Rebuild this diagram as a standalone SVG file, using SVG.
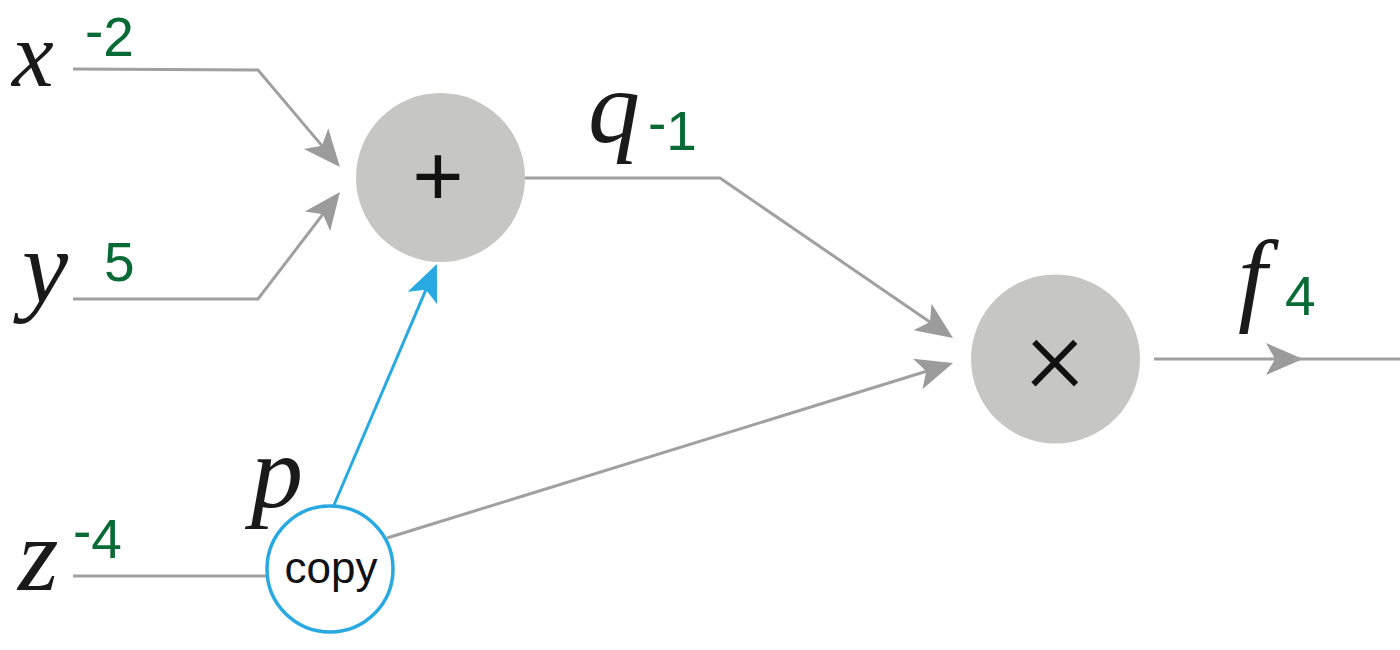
<svg xmlns="http://www.w3.org/2000/svg" width="1400" height="650" viewBox="0 0 1400 650">
<style>
.edge{fill:none;stroke:#a0a0a0;stroke-width:3}
.blue{fill:none;stroke:#29a9e1;stroke-width:3}
.op{fill:#c6c6c5}
.math{font-family:"Liberation Serif","Times New Roman",serif;font-style:italic;font-size:104px;fill:#1a1a1a}
.val{font-family:"Liberation Sans",Arial,sans-serif;font-size:55px;fill:#086a35}
.sym{font-family:"Liberation Sans",Arial,sans-serif;fill:#111;text-anchor:middle}
</style>
<defs>
<marker id="ag" markerUnits="userSpaceOnUse" markerWidth="60" markerHeight="60" viewBox="-40 -20 60 40" refX="0" refY="0" orient="auto" overflow="visible">
<path d="M10,0 L-27,-16 L-18,0 L-27,16 Z" fill="#9b9b9b"/>
</marker>
<marker id="ab" markerUnits="userSpaceOnUse" markerWidth="60" markerHeight="60" viewBox="-40 -20 60 40" refX="0" refY="0" orient="auto" overflow="visible">
<path d="M10,0 L-27,-16 L-18,0 L-27,16 Z" fill="#29a9e1"/>
</marker>
</defs>
<rect width="1400" height="650" fill="#ffffff"/>
<g id="connectors">
<path class="edge" d="M73,69 L258,70 L333.5,159.4" marker-end="url(#ag)"/>
<path class="edge" d="M73,299 L258,299 L333.9,199.9" marker-end="url(#ag)"/>
<path class="edge" d="M525,178 L720,178 L944.8,332.3" marker-end="url(#ag)"/>
<path class="edge" d="M73,576 L266,576"/>
<path class="edge" d="M387,538 L943.5,366" marker-end="url(#ag)"/>
<path class="blue" d="M334,505 L433,273.2" marker-end="url(#ab)"/>
<path class="edge" d="M1154,359 L1293,359" marker-end="url(#ag)"/>
<path class="edge" d="M1293,359 L1400,359"/>
</g>
<g id="node-add">
<circle class="op" cx="440.5" cy="177.5" r="84.5"/>
<text class="sym" x="438" y="206" style="font-size:88px">+</text>
</g>
<g id="node-mul">
<circle class="op" cx="1055.5" cy="359" r="84.5"/>
<text x="1055" y="392" font-family="Roboto,'DejaVu Sans',sans-serif" font-weight="300" font-size="110" fill="#111" text-anchor="middle">×</text>
</g>
<g id="node-copy">
<circle cx="330" cy="569" r="63" fill="#ffffff" stroke="#29a9e1" stroke-width="3.5"/>
<text class="sym" x="331" y="583" style="font-size:44px">copy</text>
</g>
<g id="labels">
<text class="math" x="12" y="86" style="font-size:94px">x</text>
<text class="val" x="85" y="56"><tspan dy="-6">-</tspan><tspan dy="6">2</tspan></text>
<text class="math" x="22" y="302">y</text>
<text class="val" x="104" y="281">5</text>
<text class="math" x="588" y="142">q</text>
<text class="val" x="648" y="150"><tspan dy="-8">-</tspan><tspan dy="8">1</tspan></text>
<text class="math" x="18" y="590">z</text>
<text class="val" x="73" y="558"><tspan dy="-8">-</tspan><tspan dy="8">4</tspan></text>
<text class="math" x="251" y="507">p</text>
<text class="math" x="1238" y="312">f</text>
<text class="val" x="1285" y="315">4</text>
</g>
</svg>
